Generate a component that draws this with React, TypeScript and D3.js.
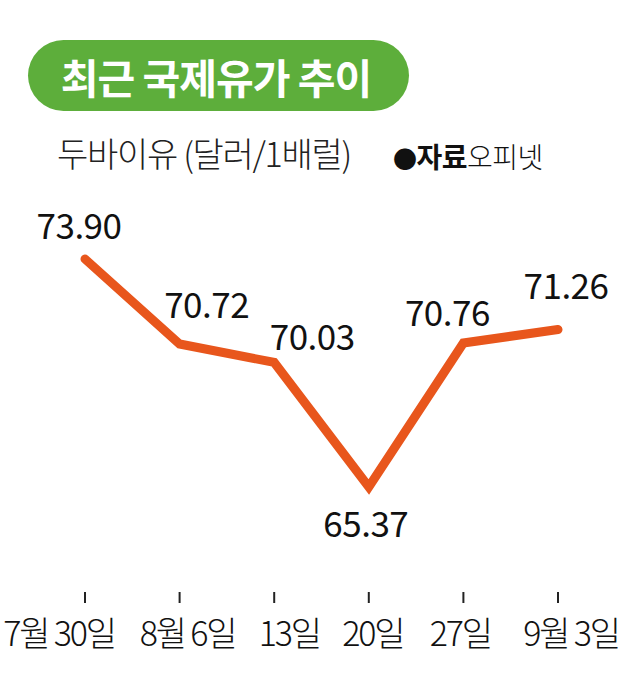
import React from "react";
import * as d3 from "d3";

const dates = ["7월 30일", "8월 6일", "13일", "20일", "27일", "9월 3일"];
const prices = [73.9, 70.72, 70.03, 65.37, 70.76, 71.26];
const priceLabels = ["73.90", "70.72", "70.03", "65.37", "70.76", "71.26"];

// layout offsets for value labels (relative to point)
const labelDx = [-6, 27, 38, -3, -16, 8];
const labelDy = [-20, -26, -12, 50, -17, -31];
// axis label offsets
const axisDx = [-26, 8, 15, 4, -3, 13];

const W = 635;
const H = 686;
const FONT = "'Noto Sans CJK KR', 'Noto Sans', sans-serif";

export default function App() {
  const x = d3.scalePoint<string>().domain(dates).range([85, 558]);
  const y = d3.scaleLinear().domain([65.37, 73.9]).range([487, 259]);
  const line = d3
    .line<number>()
    .x((_, i) => x(dates[i]) as number)
    .y((d) => y(d));

  return (
    <svg
      width={W}
      height={H}
      style={{ position: "absolute", left: 0, top: 0, background: "#fff" }}
      fontFamily={FONT}
    >
      <rect x={28} y={40} width={381} height={71} rx={35.5} fill="#5DAE3B" />
      <text
        x={216}
        y={94}
        textAnchor="middle"
        fill="#fff"
        fontSize={41}
        fontWeight={700}
        letterSpacing={-1}
      >
        최근 국제유가 추이
      </text>
      <text x={57} y={167} fontSize={34} fontWeight={300} fill="#222" letterSpacing={-1.3}>
        두바이유 (달러/1배럴)
      </text>
      <text x={393} y={168} fontSize={28} fill="#111" letterSpacing={-0.5}>
        <tspan fontSize={24}>●</tspan>
        <tspan fontWeight={700}>자료</tspan>
        <tspan fontWeight={300}>오피넷</tspan>
      </text>

      <path
        d={line(prices) || ""}
        fill="none"
        stroke="#E8561C"
        strokeWidth={9}
        strokeLinecap="round"
        strokeLinejoin="miter"
      />

      {prices.map((p, i) => (
        <text
          key={i}
          x={(x(dates[i]) as number) + labelDx[i]}
          y={y(p) + labelDy[i]}
          textAnchor="middle"
          fontSize={35}
          fontWeight={400}
          fill="#111"
          letterSpacing={-0.5}
        >
          {priceLabels[i]}
        </text>
      ))}

      {dates.map((d, i) => (
        <g key={d} transform={`translate(${x(d)},0)`}>
          <line y1={592} y2={603} stroke="#222" strokeWidth={2} />
          <text
            x={axisDx[i]}
            y={646}
            textAnchor="middle"
            fontSize={34}
            fontWeight={300}
            fill="#111"
            letterSpacing={-2.2}
          >
            {d}
          </text>
        </g>
      ))}
    </svg>
  );
}
